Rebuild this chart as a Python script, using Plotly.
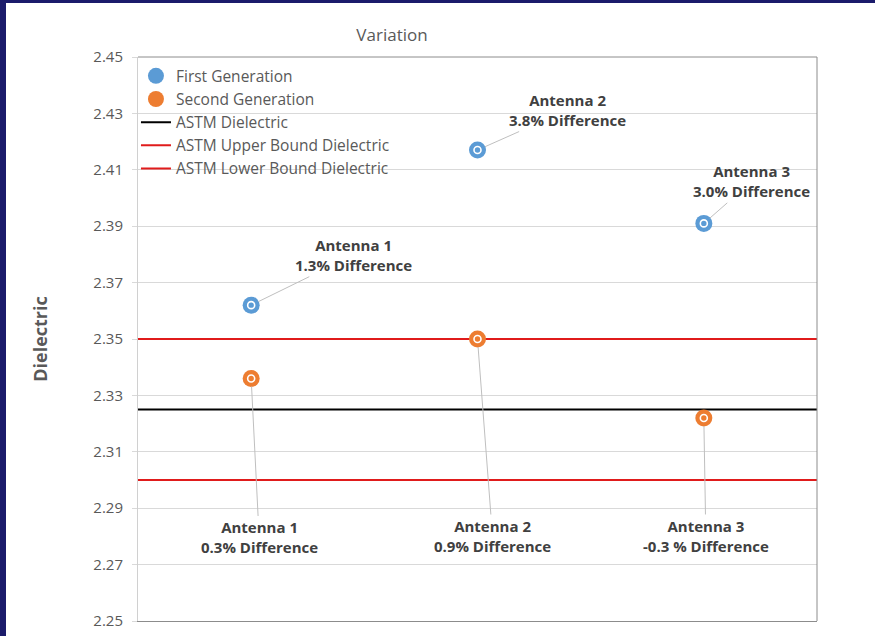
import plotly.graph_objects as go

# Antenna positions and measured dielectric values
antennas = ["Antenna 1", "Antenna 2", "Antenna 3"]
x_pos = [1, 2, 3]
first_gen = [2.362, 2.417, 2.391]
second_gen = [2.336, 2.350, 2.322]
first_diff = ["1.3% Difference", "3.8% Difference", "3.0% Difference"]
second_diff = ["0.3% Difference", "0.9% Difference", "-0.3 % Difference"]

# ASTM reference levels
astm_nominal = 2.325
astm_upper = 2.35
astm_lower = 2.30

x_range = [0.5, 3.5]
y_ticks = [2.25, 2.27, 2.29, 2.31, 2.33, 2.35, 2.37, 2.39, 2.41, 2.43, 2.45]

BLUE = "#5B9BD5"
ORANGE = "#ED7D31"
RED = "#E01B1B"
TEXT = "#595959"
FONT = "Open Sans"

fig = go.Figure()

# reference lines
fig.add_trace(go.Scatter(x=x_range, y=[astm_nominal] * 2, mode="lines",
                         name="ASTM Dielectric", legendrank=3,
                         line=dict(color="black", width=2), hoverinfo="skip"))
fig.add_trace(go.Scatter(x=x_range, y=[astm_upper] * 2, mode="lines",
                         name="ASTM Upper Bound Dielectric", legendrank=4,
                         line=dict(color=RED, width=2), hoverinfo="skip"))
fig.add_trace(go.Scatter(x=x_range, y=[astm_lower] * 2, mode="lines",
                         name="ASTM Lower Bound Dielectric", legendrank=5,
                         line=dict(color=RED, width=2), hoverinfo="skip"))

# measured points
fig.add_trace(go.Scatter(x=x_pos, y=first_gen, mode="markers", name="First Generation",
                         legendrank=1, marker=dict(color=BLUE, size=17)))
fig.add_trace(go.Scatter(x=x_pos, y=second_gen, mode="markers", name="Second Generation",
                         legendrank=2, marker=dict(color=ORANGE, size=17)))
# small white ring inside each marker
for ys in (first_gen, second_gen):
    fig.add_trace(go.Scatter(x=x_pos, y=ys, mode="markers", showlegend=False,
                             hoverinfo="skip",
                             marker=dict(symbol="circle-open", size=7, color="white",
                                         line=dict(color="white", width=1.6))))

# callout labels
first_offsets = [(102, -50), (90, -40), (48, -42)]
second_offsets = [(8, 159), (15, 197), (2, 118)]
for xs, ys, diffs, offs in ((x_pos, first_gen, first_diff, first_offsets),
                            (x_pos, second_gen, second_diff, second_offsets)):
    for x, y, name, d, (ax, ay) in zip(xs, ys, antennas, diffs, offs):
        fig.add_annotation(x=x, y=y, text=f"<b>{name}<br>{d}</b>",
                           showarrow=True, arrowhead=0, arrowwidth=1,
                           arrowcolor="#bfbfbf", ax=ax, ay=ay, standoff=8,
                           font=dict(family=FONT, size=15, color="#404040"),
                           align="center")

# slide background with a white chart panel
fig.add_shape(type="rect", xref="paper", yref="paper", layer="below",
              x0=(6 - 138) / 679, x1=1.2, y0=-0.1, y1=(621 - 3) / 564,
              fillcolor="white", line=dict(width=0))
# top and right border of plot area
fig.add_shape(type="line", xref="paper", yref="paper", x0=0, x1=1, y0=1, y1=1,
              line=dict(color="#8c8c8c", width=1))
fig.add_shape(type="line", xref="paper", yref="paper", x0=1, x1=1, y0=0, y1=1,
              line=dict(color="#8c8c8c", width=1))

fig.update_layout(
    width=875, height=636,
    margin=dict(l=138, r=58, t=57, b=15, autoexpand=False),
    paper_bgcolor="#1B1B6B",
    plot_bgcolor="rgba(0,0,0,0)",
    font=dict(family=FONT, color=TEXT),
    title=dict(text="Variation", x=392 / 875, xanchor="center",
               y=1 - 35 / 636, yanchor="middle",
               font=dict(family=FONT, size=17, color=TEXT)),
    showlegend=True,
    legend=dict(x=-0.003, y=0.996, xanchor="left", yanchor="top",
                bgcolor="rgba(0,0,0,0)", font=dict(family=FONT, size=15.5, color=TEXT),
                tracegroupgap=0),
    xaxis=dict(range=x_range, showticklabels=False, showgrid=False, zeroline=False,
               showline=True, linecolor="#8c8c8c", linewidth=1, ticks="",
               automargin=False),
    yaxis=dict(range=[2.25, 2.45], tickvals=y_ticks, tickformat=".2f",
               showgrid=True, gridcolor="#d9d9d9", gridwidth=1, zeroline=False,
               showline=True, linecolor="#d0d0d0", ticks="outside", ticklen=5,
               tickcolor="#d9d9d9", tickfont=dict(family=FONT, size=15, color=TEXT),
               ticklabelstandoff=6, automargin=False,
               title=dict(text="<b>Dielectric</b>", standoff=41,
                          font=dict(family=FONT, size=18, color=TEXT))),
)

fig.write_html("out.html")
